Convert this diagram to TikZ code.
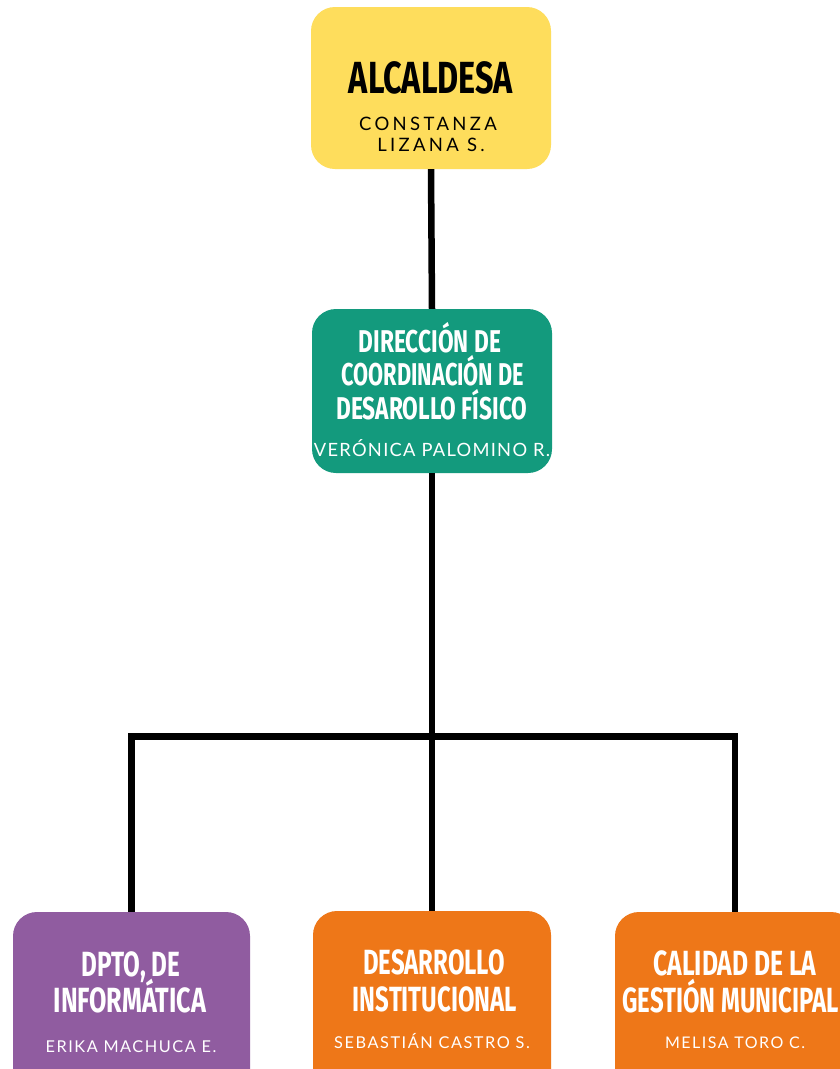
\documentclass[tikz,border=0pt]{standalone}
\usepackage{fontspec}
\newfontfamily\titlefont[FakeStretch=0.72]{Fira Sans}
\newfontfamily\namefont[LetterSpace=18]{Lato}
\newfontfamily\namefontm[LetterSpace=7]{Lato}
\newfontfamily\namefontb[LetterSpace=9.5]{Lato}
\definecolor{cyellow}{HTML}{FEDD5C}
\definecolor{cteal}{HTML}{139A7D}
\definecolor{cpurple}{HTML}{905CA0}
\definecolor{corange}{HTML}{EE7718}
\tikzset{
  box/.style={rounded corners=24pt, draw=none, inner sep=0pt},
  ttl/.style={anchor=base, inner sep=0pt, text=white},
  conn/.style={line width=6.5pt, draw=black, line join=miter, line cap=butt},
}
\newcommand{\tA}{\titlefont\bfseries\fontsize{45}{54}\selectfont}
\newcommand{\tB}{\titlefont\bfseries\fontsize{31.5}{36}\selectfont}
\newcommand{\tC}{\titlefont\bfseries\fontsize{35}{40}\selectfont}
\newcommand{\nA}[1]{\namefont\fontsize{#1}{#1}\selectfont}
\newcommand{\nM}[1]{\namefontm\fontsize{#1}{#1}\selectfont}
\newcommand{\nB}[1]{\namefontb\fontsize{#1}{#1}\selectfont}
\begin{document}
\begin{tikzpicture}[x=1pt,y=-1pt]
\useasboundingbox (0,0) rectangle (840,1069);
\fill[white] (0,0) rectangle (840,1069);
\clip (0,0) rectangle (840,1069);
% boxes
\node[box, fill=cyellow, minimum width=240pt, minimum height=162pt] (alc) at (431,88) {};
\node[box, fill=cteal, minimum width=240pt, minimum height=164pt] (dir) at (432,391) {};
\node[box, fill=cpurple, minimum width=237pt, minimum height=188pt] (inf) at (131.5,1006) {};
\node[box, fill=corange, minimum width=238pt, minimum height=188pt] (des) at (432,1005) {};
\node[box, fill=corange, minimum width=240pt, minimum height=188pt] (cal) at (735,1006) {};
\coordinate (hb) at (431,736.5);
% connectors
\draw[conn] (alc.south) -- (dir.north);
\draw[conn] (dir.south) -- (dir.south |- hb);
\draw[conn] (inf.north) -- (inf.north |- hb) -- (cal.north |- hb) -- (cal.north);
\draw[conn] (des.north |- hb) -- (des.north);
% texts: top
\node[ttl, text=black, font=\tA] (alct) at (431,93) {ALCALDESA};
\node[ttl, text=black, font=\nA{18.5}] (alcn1) at (428,130) {CONSTANZA};
\node[ttl, text=black, font=\nA{18.5}] (alcn2) at (431,151) {LIZANA S.};
% middle
\node[ttl, font=\tB] (dirt1) at (430,352) {DIRECCIÓN DE};
\node[ttl, font=\tB] (dirt2) at (433,385.5) {\scalebox{0.96}[1]{COORDINACIÓN DE}};
\node[ttl, font=\tB] (dirt3) at (432,419) {DESAROLLO FÍSICO};
\node[ttl, font=\nM{18.3}] (dirn) at (432,456) {VERÓNICA PALOMINO R.};
% bottom left
\node[ttl, font=\tC] (inft1) at (131,976) {\scalebox{0.96}[1]{DPTO, DE}};
\node[ttl, font=\tC] (inft2) at (130,1012) {INFORMÁTICA};
\node[ttl, font=\nB{16.3}] (infn) at (131,1052) {ERIKA MACHUCA E.};
% bottom middle
\node[ttl, font=\tC] (dest1) at (434,974) {\scalebox{0.95}[1]{DESARROLLO}};
\node[ttl, font=\tC] (dest2) at (435,1011) {\scalebox{0.95}[1]{INSTITUCIONAL}};
\node[ttl, font=\nB{16.3}] (desn) at (432,1048) {SEBASTIÁN CASTRO S.};
% bottom right
\node[ttl, font=\tC] (calt1) at (735,975) {\scalebox{0.98}[1]{CALIDAD DE LA}};
\node[ttl, font=\tC, anchor=base east] (calt2) at (839,1012) {\scalebox{0.95}[1]{GESTIÓN MUNICIPAL}};
\node[ttl, font=\nB{16}] (caln) at (735,1048) {MELISA TORO C.};
\end{tikzpicture}
\end{document}
